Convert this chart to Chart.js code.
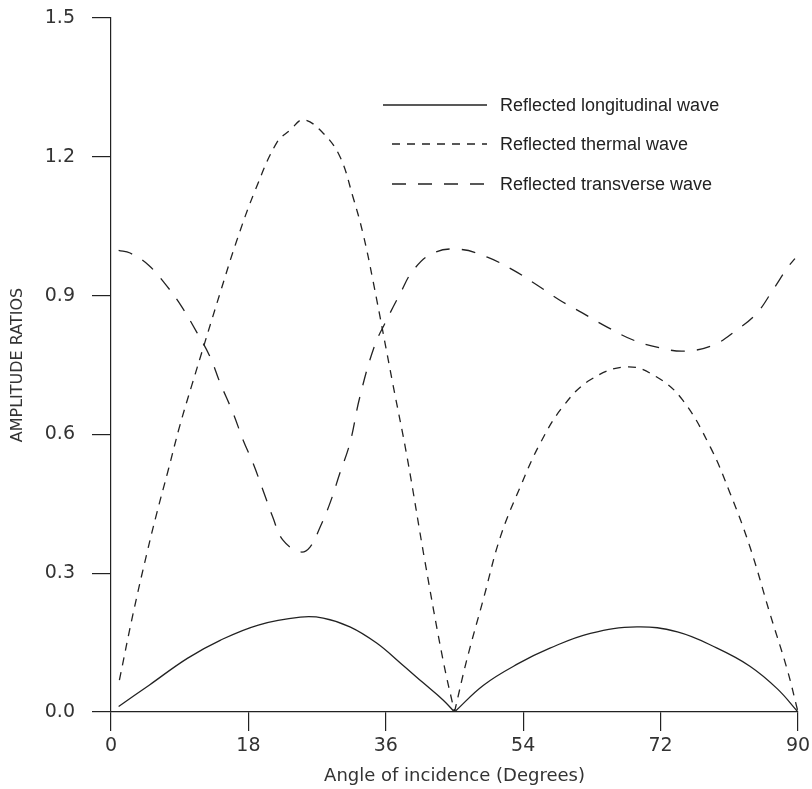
<!DOCTYPE html>
<html>
<head>
<meta charset="utf-8">
<script src="https://cdn.jsdelivr.net/npm/chart.js@4.4.0/dist/chart.umd.min.js"></script>
<style>
  body { margin: 0; background: #fff; }
  #wrap { width: 812px; height: 789px; }
</style>
</head>
<body>
<div id="wrap"><canvas id="graficoRazoes" width="812" height="789"></canvas></div>
<script>
// valores
const xTicks = [0, 18, 36, 54, 72, 90];
const yTicks = [0.0, 0.3, 0.6, 0.9, 1.2, 1.5];
const anguloCuspide = 45; // as curvas 1 e 2 tocam zero aqui (bico)

const longAngles = [1, 5, 10, 14.3, 19.3, 24.8, 27.8, 31.3, 34.8, 37.9, 40.9, 43.5, 45, 48.8, 53.4, 57.5, 62.8, 68.9, 74.2, 79.4, 83.7, 87.3, 90];
const longValues = [0.012, 0.058, 0.116, 0.155, 0.188, 0.205, 0.203, 0.184, 0.149, 0.106, 0.063, 0.026, 0.0, 0.058, 0.105, 0.138, 0.17, 0.184, 0.173, 0.138, 0.099, 0.05, 0.0];

const thermAngles = [1.1, 2.9, 4.7, 6, 7.5, 9, 10.6, 14.3, 16.5, 18.9, 21.7, 23.5, 25.2, 27.8, 30, 31.7, 33, 34.3, 36.9, 38.8, 41.1, 43.5, 45,
  46.6, 48.8, 51, 53.6, 56.2, 59.2, 62.8, 67.6, 71.5, 74.9, 78.5, 81.1, 83.7, 86.3, 88.6, 90];
const thermValues = [0.069, 0.213, 0.343, 0.43, 0.523, 0.618, 0.707, 0.906, 1.02, 1.128, 1.23, 1.258, 1.28, 1.251, 1.2, 1.113, 1.035, 0.934, 0.711, 0.55, 0.328, 0.112, 0.0,
  0.112, 0.245, 0.378, 0.486, 0.58, 0.66, 0.718, 0.746, 0.724, 0.674, 0.573, 0.473, 0.357, 0.214, 0.091, 0.0];

const transAngles = [1, 2.5, 4.9, 7.3, 9.3, 11.3, 13, 14.3, 16, 17.3, 18.6, 19.9, 21.2, 22.5, 24.8, 26.1, 27.4, 28.7, 30, 31.3, 32.6, 34.5, 36.1, 37.9, 39.6, 42.2, 45.7,
  49.3, 52.7, 55.8, 58.8, 61.8, 65, 68.4, 71.9, 75.2, 78.9, 82, 84.6, 86.7, 88.7, 89.6];
const transValues = [0.998, 0.992, 0.966, 0.921, 0.875, 0.819, 0.767, 0.711, 0.646, 0.588, 0.538, 0.48, 0.421, 0.372, 0.346, 0.357, 0.4, 0.452, 0.517, 0.581, 0.681, 0.79, 0.847, 0.905, 0.955, 0.992, 1.0,
  0.983, 0.955, 0.923, 0.89, 0.862, 0.832, 0.804, 0.787, 0.78, 0.793, 0.826, 0.862, 0.912, 0.962, 0.98];

const rotulos = ['Reflected longitudinal wave', 'Reflected thermal wave', 'Reflected transverse wave'];

// monta os pontos; se houver bico, quebra a linha ali para ele ficar em "V"
function pontos(xs, ys, cuspide) {
    const out = [];
    xs.forEach((x, i) => {
        out.push({ x: x, y: ys[i] });
        if (cuspide !== undefined && x === cuspide) {
            out.push({ x: x, y: null });
            out.push({ x: x, y: ys[i] });
        }
    });
    return out;
}

const legendaInterna = {
    id: 'legendaInterna',
    afterDraw(chart) {
        const ctx = chart.ctx;
        const linhasY = [105, 144, 184];
        ctx.save();
        chart.data.datasets.forEach((ds, i) => {
            const y = linhasY[i];
            ctx.beginPath();
            ctx.setLineDash(ds.borderDash || []);
            ctx.strokeStyle = ds.borderColor;
            ctx.lineWidth = ds.borderWidth;
            ctx.moveTo(i === 0 ? 383 : 392, y);
            ctx.lineTo(487, y);
            ctx.stroke();
            ctx.setLineDash([]);
            ctx.fillStyle = '#222';
            ctx.font = '18px "Liberation Sans", Arial, sans-serif';
            ctx.textBaseline = 'middle';
            ctx.textAlign = 'left';
            ctx.fillText(ds.label, 500, y + 1);
        });
        ctx.restore();
    }
};

const eixoGrade = { display: true, drawOnChartArea: false, drawTicks: true, tickLength: 19, color: '#222', lineWidth: 1.2 };
const eixoBorda = { display: true, color: '#222', width: 1.2 };
const fonteEixo = { family: '"DejaVu Sans", sans-serif', size: 19 };

const ctxRazoes = document.getElementById('graficoRazoes').getContext('2d');
const graficoRazoes = new Chart(ctxRazoes, {
    type: 'line',
    data: {
        datasets: [
            {
                label: rotulos[0],
                data: pontos(longAngles, longValues, anguloCuspide),
                borderColor: '#222',
                borderWidth: 1.3,
                pointRadius: 0,
                tension: 0.4
            },
            {
                label: rotulos[1],
                data: pontos(thermAngles, thermValues, anguloCuspide),
                borderColor: '#222',
                borderWidth: 1.3,
                borderDash: [8, 7],
                pointRadius: 0,
                tension: 0.4
            },
            {
                label: rotulos[2],
                data: pontos(transAngles, transValues),
                borderColor: '#222',
                borderWidth: 1.3,
                borderDash: [14, 12],
                pointRadius: 0,
                tension: 0.4
            }
        ]
    },
    options: {
        responsive: false,
        animation: false,
        spanGaps: false,
        layout: { padding: { left: 0, right: 14, top: 18, bottom: 0 } },
        plugins: {
            legend: { display: false },
            tooltip: { enabled: false }
        },
        scales: {
            x: {
                type: 'linear',
                min: 0,
                max: 90,
                afterFit(scale) { scale.height = 77; scale.paddingRight = 0; scale.paddingLeft = 0; },
                afterBuildTicks(scale) { scale.ticks = xTicks.map(v => ({ value: v })); },
                grid: eixoGrade,
                border: eixoBorda,
                ticks: { padding: 4, color: '#333', font: fonteEixo, maxRotation: 0, autoSkip: false },
                title: {
                    display: true,
                    text: 'Angle of incidence (Degrees)',
                    color: '#333',
                    font: { family: '"DejaVu Sans", sans-serif', size: 18 },
                    padding: { top: 0, bottom: 2 }
                }
            },
            y: {
                min: 0,
                max: 1.5,
                afterFit(scale) { scale.width = 111; scale.paddingTop = 0; scale.paddingBottom = 0; },
                afterBuildTicks(scale) { scale.ticks = yTicks.map(v => ({ value: v })); },
                grid: eixoGrade,
                border: eixoBorda,
                ticks: { padding: 17, color: '#333', font: fonteEixo, callback: v => v.toFixed(1) },
                title: {
                    display: true,
                    text: 'AMPLITUDE RATIOS',
                    color: '#333',
                    font: { family: '"DejaVu Sans", sans-serif', size: 16 },
                    padding: { top: 8, bottom: 0 }
                }
            }
        }
    },
    plugins: [legendaInterna]
});
</script>
</body>
</html>
